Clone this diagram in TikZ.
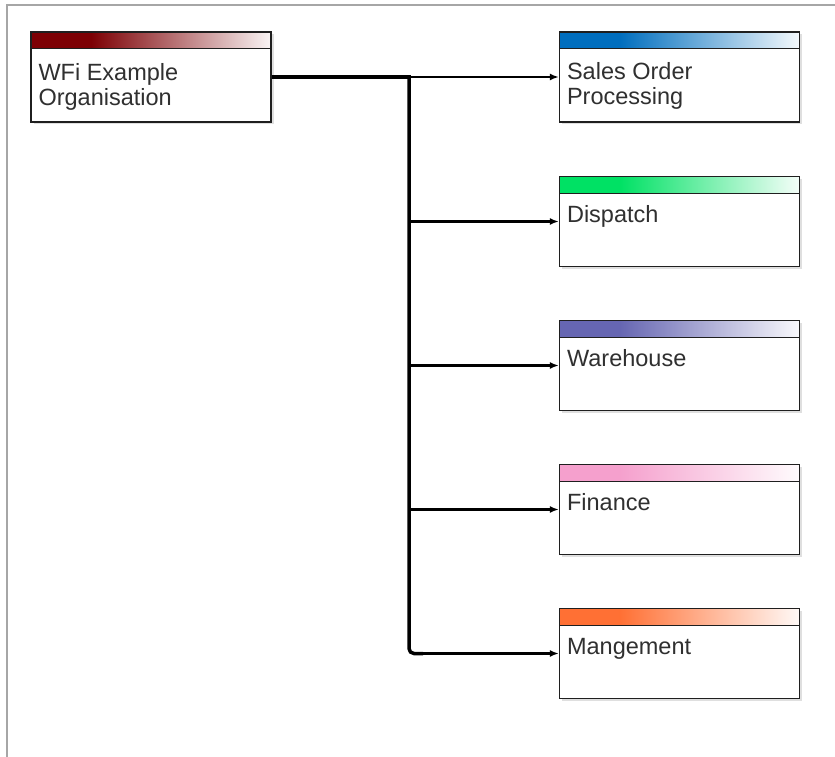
\documentclass[tikz,border=0pt]{standalone}
\usepackage{fontspec}
\setmainfont{Liberation Sans}
\usetikzlibrary{arrows.meta,shadows}

\definecolor{hdrroot}{RGB}{125,0,4}
\definecolor{hdrsales}{RGB}{0,110,190}
\definecolor{hdrdispatch}{RGB}{0,225,100}
\definecolor{hdrwarehouse}{RGB}{102,102,178}
\definecolor{hdrfinance}{RGB}{245,160,205}
\definecolor{hdrmgmt}{RGB}{255,112,52}
\definecolor{cardink}{RGB}{48,48,48}

\tikzset{
  card/.style={draw=black!88, line width=1.3pt, fill=white,
    minimum width=240pt, minimum height=90pt, inner sep=0pt,
    drop shadow={shadow xshift=2.5pt, shadow yshift=-2.5pt, opacity=0.18, fill=black!70},
    path picture={
      \fill[#1] (path picture bounding box.north west) rectangle
        ([xshift=60pt, yshift=-17pt]path picture bounding box.north west);
      \shade[left color=#1, right color=#1!4!white]
        ([xshift=60pt]path picture bounding box.north west) rectangle
        ([yshift=-17pt]path picture bounding box.north east);
      \draw[line width=1pt, black!88]
        ([yshift=-17pt]path picture bounding box.north west) --
        ([yshift=-17pt]path picture bounding box.north east);
    }},
  cardtext/.style={text=cardink, inner sep=0pt, align=left,
    font=\fontsize{23.5}{24.5}\selectfont},
  trunkline/.style={line width=3.5pt, black},
  branch/.style={line width=2.2pt, black, -{Latex[length=9pt, width=7pt]}},
  frameline/.style={line width=2pt, black!35}
}

\begin{document}
\begin{tikzpicture}[x=1pt, y=-1pt]
  \useasboundingbox (0,0) rectangle (835,757);
  \draw[frameline] (6.5,757) -- (6.5,5.5) -- (835,5.5);

  % organisation and its departments
  \node[card=hdrroot]      (root)      at (151,77)    {};
  \node[card=hdrsales]     (sales)     at (679.5,77)  {};
  \node[card=hdrdispatch]  (dispatch)  at (679.5,221.5) {};
  \node[card=hdrwarehouse] (warehouse) at (679.5,365.5) {};
  \node[card=hdrfinance]   (finance)   at (679.5,509.5) {};
  \node[card=hdrmgmt]      (mgmt)      at (679.5,653.5) {};

  % labels: base anchor sits on the last line's baseline
  \node[cardtext, anchor=base west] (rootlbl)      at ([shift={(8,74)}]root.north west)      {WFi Example\\Organisation};
  \node[cardtext, anchor=base west] (saleslbl)     at ([shift={(8,73)}]sales.north west)     {Sales Order\\Processing};
  \node[cardtext, anchor=base west] (dispatchlbl)  at ([shift={(8,47)}]dispatch.north west)  {Dispatch};
  \node[cardtext, anchor=base west] (warehouselbl) at ([shift={(8,47)}]warehouse.north west) {Warehouse};
  \node[cardtext, anchor=base west] (financelbl)   at ([shift={(8,47)}]finance.north west)   {Finance};
  \node[cardtext, anchor=base west] (mgmtlbl)      at ([shift={(8,47)}]mgmt.north west)      {Mangement};

  % connectors
  \coordinate (trunk) at (409,77);
  \draw[trunkline] (root.east) -- ([xshift=1.75pt]root.east -| trunk);
  \draw[trunkline, rounded corners=5pt]
    (root.east -| trunk) -- (mgmt.west -| trunk) -- ([xshift=14pt]mgmt.west -| trunk);
  \draw[branch] (sales.west -| trunk)     -- (sales.west);
  \draw[branch] (dispatch.west -| trunk)  -- (dispatch.west);
  \draw[branch] (warehouse.west -| trunk) -- (warehouse.west);
  \draw[branch] (finance.west -| trunk)   -- (finance.west);
  \draw[branch] ([xshift=10pt]mgmt.west -| trunk) -- (mgmt.west);
\end{tikzpicture}
\end{document}
